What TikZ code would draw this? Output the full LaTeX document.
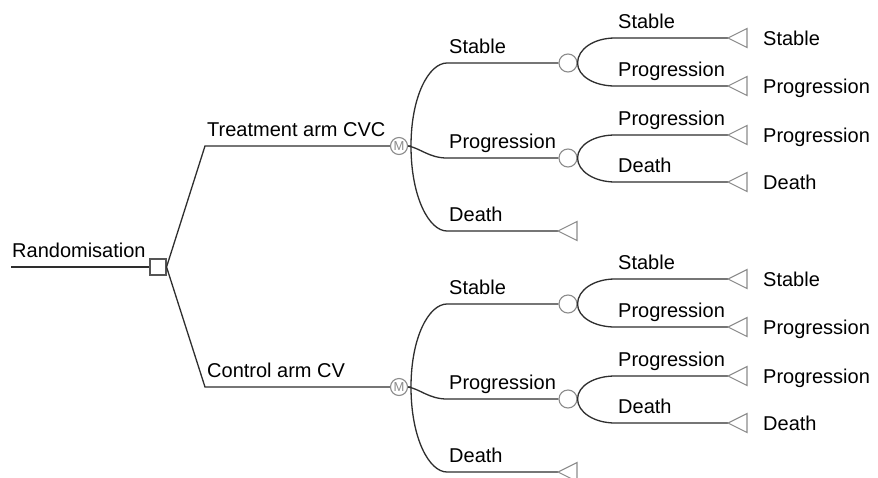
\documentclass[tikz,border=0pt]{standalone}
\usepackage{fontspec}
\setmainfont{Liberation Sans}
\definecolor{linec}{HTML}{2E2E2E}
\definecolor{nodec}{HTML}{8C8C8C}
\definecolor{decc}{HTML}{555555}
\newcommand{\armtree}[3]{%
 \begin{scope}[shift={(0,#2)}]
  \coordinate (#1c) at (205,0);
  \node[markov] (#1m) at (399,0) {M};
  \node[lab] (#1l) at (207,-10) {#3};
  \draw[edge] (dec.east) -- (#1c) -- (#1m.west);
  \coordinate (#1h) at (411,0);
  \coordinate (#1s) at (447,-83);
  \coordinate (#1p) at (447,12);
  \coordinate (#1d) at (447,85);
  \node[chance] (#1cs) at (568,-83) {};
  \node[chance] (#1cp) at (568,12) {};
  \coordinate (#1td) at (558,85);
  \node[lab] (#1ls) at (449,-93) {Stable};
  \node[lab] (#1lp) at (449,2) {Progression};
  \node[lab] (#1ld) at (449,75) {Death};
  \draw[edge] (#1m.east) -- (#1h) .. controls +(0,-50) and +(-18,0) .. (#1s) -- (#1cs.west);
  \draw[edge] (#1h) .. controls +(0,51) and +(-18,0) .. (#1d) -- (#1td);
  \draw[edge] (#1m.east) .. controls +(12,2) and +(-18,0) .. (#1p) -- (#1cp.west);
  \draw[term] (#1td) -- ++(19,-9.5) -- ++(0,19) -- cycle;
  % chance node: stable subtree
  \coordinate (#1a1) at (615,-108);
  \coordinate (#1a2) at (615,-60);
  \coordinate (#1ta1) at (728,-108);
  \coordinate (#1ta2) at (728,-60);
  \draw[edge] (#1cs.east) .. controls +(0,-14) and +(-21,0) .. (#1a1) -- (#1ta1);
  \draw[edge] (#1cs.east) .. controls +(0,13) and +(-21,0) .. (#1a2) -- (#1ta2);
  \draw[term] (#1ta1) -- ++(19,-9.5) -- ++(0,19) -- cycle;
  \draw[term] (#1ta2) -- ++(19,-9.5) -- ++(0,19) -- cycle;
  \node[lab] (#1la1) at (618,-118) {Stable};
  \node[lab] (#1la2) at (618,-70) {Progression};
  \node[lab] (#1ea1) at (763,-101) {Stable};
  \node[lab] (#1ea2) at (763,-53) {Progression};
  % chance node: progression subtree
  \coordinate (#1b1) at (615,-11);
  \coordinate (#1b2) at (615,36);
  \coordinate (#1tb1) at (728,-11);
  \coordinate (#1tb2) at (728,36);
  \draw[edge] (#1cp.east) .. controls +(0,-13) and +(-21,0) .. (#1b1) -- (#1tb1);
  \draw[edge] (#1cp.east) .. controls +(0,13) and +(-21,0) .. (#1b2) -- (#1tb2);
  \draw[term] (#1tb1) -- ++(19,-9.5) -- ++(0,19) -- cycle;
  \draw[term] (#1tb2) -- ++(19,-9.5) -- ++(0,19) -- cycle;
  \node[lab] (#1lb1) at (618,-21) {Progression};
  \node[lab] (#1lb2) at (618,26) {Death};
  \node[lab] (#1eb1) at (763,-4) {Progression};
  \node[lab] (#1eb2) at (763,43) {Death};
 \end{scope}}
\begin{document}
\begin{tikzpicture}[x=1pt,y=-1pt,
  edge/.style={draw=linec, line width=1.3pt},
  lab/.style={anchor=base west, inner sep=0pt, font=\fontsize{20}{24}\selectfont},
  chance/.style={circle, draw=nodec, line width=1.1pt, minimum size=18pt, inner sep=0pt},
  markov/.style={circle, draw=nodec, line width=1.1pt, minimum size=17pt, inner sep=0pt, text=nodec, font=\fontsize{13}{13}\selectfont},
  decision/.style={rectangle, draw=decc, line width=1.1pt, minimum size=16pt, inner sep=0pt},
  term/.style={draw=nodec, line width=1.1pt, line join=miter}]
\useasboundingbox (0,0) rectangle (878,477);
\clip (0,0) rectangle (878,477);
\fill[white] (0,0) rectangle (878,477);
\node[decision] (dec) at (158,267) {};
\coordinate (root) at (11,267);
\node[lab] (rootl) at (12,257) {Randomisation};
\draw[edge] (root) -- (dec.west);
\armtree{t}{146}{Treatment arm CVC}
\armtree{k}{387}{Control arm CV}
\end{tikzpicture}
\end{document}
